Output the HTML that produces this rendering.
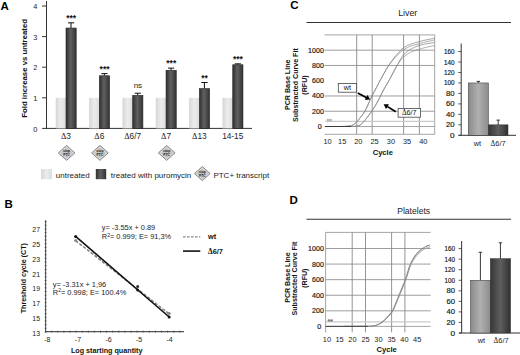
<!DOCTYPE html>
<html><head><meta charset="utf-8"><style>
html,body{margin:0;padding:0;background:#fff;width:520px;height:355px;overflow:hidden}
svg{display:block}
text{font-family:"Liberation Sans", sans-serif}
.h{stroke:#1a1a1a;stroke-width:0.18px}
</style></head><body>
<svg width="520" height="355" viewBox="0 0 520 355">
<rect width="520" height="355" fill="#fff"/>
<defs>
<linearGradient id="gl" x1="0" x2="1" y1="0" y2="0">
 <stop offset="0" stop-color="#d6d6d6"/><stop offset="0.5" stop-color="#ececec"/><stop offset="1" stop-color="#dcdcdc"/>
</linearGradient>
<linearGradient id="gd" x1="0" x2="1" y1="0" y2="0">
 <stop offset="0" stop-color="#303030"/><stop offset="0.45" stop-color="#606060"/><stop offset="1" stop-color="#333333"/>
</linearGradient>
<linearGradient id="gw" x1="0" x2="1" y1="0" y2="0">
 <stop offset="0" stop-color="#8a8a8a"/><stop offset="0.5" stop-color="#b0b0b0"/><stop offset="1" stop-color="#8c8c8c"/>
</linearGradient>
<linearGradient id="gm" x1="0" x2="1" y1="0" y2="0">
 <stop offset="0" stop-color="#363636"/><stop offset="0.5" stop-color="#5e5e5e"/><stop offset="1" stop-color="#303030"/>
</linearGradient>
</defs>
<text x="0.50" y="9.60" font-size="11.5" font-weight="bold" text-anchor="start" fill="#000" >A</text>
<line x1="46.50" y1="1.00" x2="46.50" y2="128.90" stroke="#333" stroke-width="1" />
<line x1="46.00" y1="128.40" x2="252.00" y2="128.40" stroke="#333" stroke-width="1" />
<line x1="42.10" y1="128.40" x2="46.50" y2="128.40" stroke="#333" stroke-width="1" />
<text x="37.40" y="131.50" font-size="7.4" font-weight="normal" text-anchor="end" fill="#222" >0</text>
<line x1="42.10" y1="97.80" x2="46.50" y2="97.80" stroke="#333" stroke-width="1" />
<text x="37.40" y="100.90" font-size="7.4" font-weight="normal" text-anchor="end" fill="#222" >1</text>
<line x1="42.10" y1="67.20" x2="46.50" y2="67.20" stroke="#333" stroke-width="1" />
<text x="37.40" y="70.30" font-size="7.4" font-weight="normal" text-anchor="end" fill="#222" >2</text>
<line x1="42.10" y1="36.60" x2="46.50" y2="36.60" stroke="#333" stroke-width="1" />
<text x="37.40" y="39.70" font-size="7.4" font-weight="normal" text-anchor="end" fill="#222" >3</text>
<line x1="42.10" y1="6.00" x2="46.50" y2="6.00" stroke="#333" stroke-width="1" />
<text x="37.40" y="9.10" font-size="7.4" font-weight="normal" text-anchor="end" fill="#222" >4</text>
<text transform="translate(26.8,68.4) rotate(-90)" font-size="7.8" font-weight="bold" text-anchor="middle" fill="#111">Fold increase vs untreated</text>
<rect x="55.70" y="97.80" width="10.30" height="30.60" fill="url(#gl)" />
<line x1="71.00" y1="22.83" x2="71.00" y2="28.03" stroke="#111" stroke-width="1" />
<line x1="68.00" y1="22.83" x2="74.20" y2="22.83" stroke="#111" stroke-width="1" />
<rect x="66.00" y="28.03" width="10.20" height="100.37" fill="url(#gd)" stroke="#222" stroke-width="0.6"/>
<text x="71.20" y="20.83" font-size="8.5" font-weight="bold" text-anchor="middle" fill="#111" >***</text>
<text x="66.00" y="139.20" font-size="8.3" font-weight="normal" text-anchor="middle" fill="#222" ><tspan font-family="Liberation Serif">&#916;</tspan>3</text>
<rect x="89.05" y="97.80" width="10.30" height="30.60" fill="url(#gl)" />
<line x1="104.35" y1="73.63" x2="104.35" y2="75.77" stroke="#111" stroke-width="1" />
<line x1="101.35" y1="73.63" x2="107.55" y2="73.63" stroke="#111" stroke-width="1" />
<rect x="99.35" y="75.77" width="10.20" height="52.63" fill="url(#gd)" stroke="#222" stroke-width="0.6"/>
<text x="104.55" y="71.63" font-size="8.5" font-weight="bold" text-anchor="middle" fill="#111" >***</text>
<text x="99.35" y="139.20" font-size="8.3" font-weight="normal" text-anchor="middle" fill="#222" ><tspan font-family="Liberation Serif">&#916;</tspan>6</text>
<rect x="122.40" y="97.80" width="10.30" height="30.60" fill="url(#gl)" />
<line x1="137.70" y1="93.21" x2="137.70" y2="95.35" stroke="#111" stroke-width="1" />
<line x1="134.70" y1="93.21" x2="140.90" y2="93.21" stroke="#111" stroke-width="1" />
<rect x="132.70" y="95.35" width="10.20" height="33.05" fill="url(#gd)" stroke="#222" stroke-width="0.6"/>
<text x="137.90" y="87.71" font-size="8" font-weight="normal" text-anchor="middle" fill="#222" >ns</text>
<text x="132.70" y="139.20" font-size="8.3" font-weight="normal" text-anchor="middle" fill="#222" ><tspan font-family="Liberation Serif">&#916;</tspan>6/7</text>
<rect x="155.75" y="97.80" width="10.30" height="30.60" fill="url(#gl)" />
<line x1="171.05" y1="68.12" x2="171.05" y2="70.26" stroke="#111" stroke-width="1" />
<line x1="168.05" y1="68.12" x2="174.25" y2="68.12" stroke="#111" stroke-width="1" />
<rect x="166.05" y="70.26" width="10.20" height="58.14" fill="url(#gd)" stroke="#222" stroke-width="0.6"/>
<text x="171.25" y="66.12" font-size="8.5" font-weight="bold" text-anchor="middle" fill="#111" >***</text>
<text x="166.05" y="139.20" font-size="8.3" font-weight="normal" text-anchor="middle" fill="#222" ><tspan font-family="Liberation Serif">&#916;</tspan>7</text>
<rect x="189.10" y="97.80" width="10.30" height="30.60" fill="url(#gl)" />
<line x1="204.40" y1="82.50" x2="204.40" y2="88.62" stroke="#111" stroke-width="1" />
<line x1="201.40" y1="82.50" x2="207.60" y2="82.50" stroke="#111" stroke-width="1" />
<rect x="199.40" y="88.62" width="10.20" height="39.78" fill="url(#gd)" stroke="#222" stroke-width="0.6"/>
<text x="204.60" y="80.50" font-size="8.5" font-weight="bold" text-anchor="middle" fill="#111" >**</text>
<text x="199.40" y="139.20" font-size="8.3" font-weight="normal" text-anchor="middle" fill="#222" ><tspan font-family="Liberation Serif">&#916;</tspan>13</text>
<rect x="222.45" y="97.80" width="10.30" height="30.60" fill="url(#gl)" />
<line x1="237.75" y1="63.83" x2="237.75" y2="64.75" stroke="#111" stroke-width="1" />
<line x1="234.75" y1="63.83" x2="240.95" y2="63.83" stroke="#111" stroke-width="1" />
<rect x="232.75" y="64.75" width="10.20" height="63.65" fill="url(#gd)" stroke="#222" stroke-width="0.6"/>
<text x="237.95" y="61.83" font-size="8.5" font-weight="bold" text-anchor="middle" fill="#111" >***</text>
<text x="232.75" y="139.20" font-size="8.3" font-weight="normal" text-anchor="middle" fill="#222" >14-15</text>
<path d="M66.60 145.43 L74.90 152.90 L66.60 160.37 L58.30 152.90 Z" fill="#cfcfcf" stroke="#7a7a7a" stroke-width="0.9"/>
<path d="M66.60 146.93 L73.30 152.90 L66.60 158.87 L59.90 152.90 Z" fill="#c4c4c4" stroke="#e4e4e4" stroke-width="0.6"/>
<text x="66.60" y="152.40" font-size="3.4" font-weight="bold" text-anchor="middle" fill="#222" >stop</text>
<text x="66.60" y="155.80" font-size="3.4" font-weight="bold" text-anchor="middle" fill="#222" >PTC</text>
<path d="M99.95 145.43 L108.25 152.90 L99.95 160.37 L91.65 152.90 Z" fill="#cfcfcf" stroke="#7a7a7a" stroke-width="0.9"/>
<path d="M99.95 146.93 L106.65 152.90 L99.95 158.87 L93.25 152.90 Z" fill="#c4c4c4" stroke="#e4e4e4" stroke-width="0.6"/>
<text x="99.95" y="152.40" font-size="3.4" font-weight="bold" text-anchor="middle" fill="#222" >stop</text>
<text x="99.95" y="155.80" font-size="3.4" font-weight="bold" text-anchor="middle" fill="#222" >PTC</text>
<path d="M166.65 145.43 L174.95 152.90 L166.65 160.37 L158.35 152.90 Z" fill="#cfcfcf" stroke="#7a7a7a" stroke-width="0.9"/>
<path d="M166.65 146.93 L173.35 152.90 L166.65 158.87 L159.95 152.90 Z" fill="#c4c4c4" stroke="#e4e4e4" stroke-width="0.6"/>
<text x="166.65" y="152.40" font-size="3.4" font-weight="bold" text-anchor="middle" fill="#222" >stop</text>
<text x="166.65" y="155.80" font-size="3.4" font-weight="bold" text-anchor="middle" fill="#222" >PTC</text>
<rect x="41.00" y="169.00" width="11.00" height="10.20" fill="url(#gl)" />
<text x="55.80" y="178.20" font-size="8.0" font-weight="normal" text-anchor="start" fill="#222" >untreated</text>
<rect x="95.80" y="169.00" width="10.40" height="10.20" fill="url(#gd)" />
<text x="110.80" y="178.20" font-size="8.0" font-weight="normal" text-anchor="start" fill="#222" >treated with puromycin</text>
<path d="M202.30 166.58 L210.10 173.60 L202.30 180.62 L194.50 173.60 Z" fill="#cfcfcf" stroke="#7a7a7a" stroke-width="0.9"/>
<path d="M202.30 168.08 L208.50 173.60 L202.30 179.12 L196.10 173.60 Z" fill="#c4c4c4" stroke="#e4e4e4" stroke-width="0.6"/>
<text x="202.30" y="173.10" font-size="3.4" font-weight="bold" text-anchor="middle" fill="#222" >stop</text>
<text x="202.30" y="176.50" font-size="3.4" font-weight="bold" text-anchor="middle" fill="#222" >PTC</text>
<text x="213.40" y="178.20" font-size="8.0" font-weight="normal" text-anchor="start" fill="#222" >PTC+ transcript</text>
<text x="4.60" y="208.20" font-size="11.5" font-weight="bold" text-anchor="start" fill="#000" >B</text>
<line x1="45.60" y1="220.30" x2="45.60" y2="331.60" stroke="#555" stroke-width="1.1" />
<line x1="45.60" y1="331.60" x2="184.00" y2="331.60" stroke="#555" stroke-width="1.1" />
<line x1="44.70" y1="332.00" x2="46.50" y2="332.00" stroke="#444" stroke-width="0.9" />
<line x1="44.70" y1="328.32" x2="46.50" y2="328.32" stroke="#444" stroke-width="0.9" />
<line x1="44.70" y1="324.64" x2="46.50" y2="324.64" stroke="#444" stroke-width="0.9" />
<line x1="44.70" y1="320.96" x2="46.50" y2="320.96" stroke="#444" stroke-width="0.9" />
<line x1="44.70" y1="317.28" x2="46.50" y2="317.28" stroke="#444" stroke-width="0.9" />
<line x1="44.70" y1="313.60" x2="46.50" y2="313.60" stroke="#444" stroke-width="0.9" />
<line x1="44.70" y1="309.92" x2="46.50" y2="309.92" stroke="#444" stroke-width="0.9" />
<line x1="44.70" y1="306.24" x2="46.50" y2="306.24" stroke="#444" stroke-width="0.9" />
<line x1="44.70" y1="302.56" x2="46.50" y2="302.56" stroke="#444" stroke-width="0.9" />
<line x1="44.70" y1="298.88" x2="46.50" y2="298.88" stroke="#444" stroke-width="0.9" />
<line x1="44.70" y1="295.20" x2="46.50" y2="295.20" stroke="#444" stroke-width="0.9" />
<line x1="44.70" y1="291.52" x2="46.50" y2="291.52" stroke="#444" stroke-width="0.9" />
<line x1="44.70" y1="287.84" x2="46.50" y2="287.84" stroke="#444" stroke-width="0.9" />
<line x1="44.70" y1="284.16" x2="46.50" y2="284.16" stroke="#444" stroke-width="0.9" />
<line x1="44.70" y1="280.48" x2="46.50" y2="280.48" stroke="#444" stroke-width="0.9" />
<line x1="44.70" y1="276.80" x2="46.50" y2="276.80" stroke="#444" stroke-width="0.9" />
<line x1="44.70" y1="273.12" x2="46.50" y2="273.12" stroke="#444" stroke-width="0.9" />
<line x1="44.70" y1="269.44" x2="46.50" y2="269.44" stroke="#444" stroke-width="0.9" />
<line x1="44.70" y1="265.76" x2="46.50" y2="265.76" stroke="#444" stroke-width="0.9" />
<line x1="44.70" y1="262.08" x2="46.50" y2="262.08" stroke="#444" stroke-width="0.9" />
<line x1="44.70" y1="258.40" x2="46.50" y2="258.40" stroke="#444" stroke-width="0.9" />
<line x1="44.70" y1="254.72" x2="46.50" y2="254.72" stroke="#444" stroke-width="0.9" />
<line x1="44.70" y1="251.04" x2="46.50" y2="251.04" stroke="#444" stroke-width="0.9" />
<line x1="44.70" y1="247.36" x2="46.50" y2="247.36" stroke="#444" stroke-width="0.9" />
<line x1="44.70" y1="243.68" x2="46.50" y2="243.68" stroke="#444" stroke-width="0.9" />
<line x1="44.70" y1="240.00" x2="46.50" y2="240.00" stroke="#444" stroke-width="0.9" />
<line x1="44.70" y1="236.32" x2="46.50" y2="236.32" stroke="#444" stroke-width="0.9" />
<line x1="44.70" y1="232.64" x2="46.50" y2="232.64" stroke="#444" stroke-width="0.9" />
<line x1="44.70" y1="228.96" x2="46.50" y2="228.96" stroke="#444" stroke-width="0.9" />
<line x1="44.70" y1="225.28" x2="46.50" y2="225.28" stroke="#444" stroke-width="0.9" />
<line x1="44.70" y1="221.60" x2="46.50" y2="221.60" stroke="#444" stroke-width="0.9" />
<text x="40.10" y="335.50" font-size="7" font-weight="normal" text-anchor="end" fill="#222" >13</text>
<text x="40.10" y="320.78" font-size="7" font-weight="normal" text-anchor="end" fill="#222" >15</text>
<text x="40.10" y="306.06" font-size="7" font-weight="normal" text-anchor="end" fill="#222" >17</text>
<text x="40.10" y="291.34" font-size="7" font-weight="normal" text-anchor="end" fill="#222" >19</text>
<text x="40.10" y="276.62" font-size="7" font-weight="normal" text-anchor="end" fill="#222" >21</text>
<text x="40.10" y="261.90" font-size="7" font-weight="normal" text-anchor="end" fill="#222" >23</text>
<text x="40.10" y="247.18" font-size="7" font-weight="normal" text-anchor="end" fill="#222" >25</text>
<text x="40.10" y="232.46" font-size="7" font-weight="normal" text-anchor="end" fill="#222" >27</text>
<text x="47.40" y="342.40" font-size="7" font-weight="normal" text-anchor="middle" fill="#222" >-8</text>
<text x="77.95" y="342.40" font-size="7" font-weight="normal" text-anchor="middle" fill="#222" >-7</text>
<text x="108.50" y="342.40" font-size="7" font-weight="normal" text-anchor="middle" fill="#222" >-6</text>
<text x="139.05" y="342.40" font-size="7" font-weight="normal" text-anchor="middle" fill="#222" >-5</text>
<text x="169.60" y="342.40" font-size="7" font-weight="normal" text-anchor="middle" fill="#222" >-4</text>
<line x1="45.60" y1="330.70" x2="45.60" y2="332.50" stroke="#444" stroke-width="0.9" />
<line x1="51.70" y1="330.70" x2="51.70" y2="332.50" stroke="#444" stroke-width="0.9" />
<line x1="57.80" y1="330.70" x2="57.80" y2="332.50" stroke="#444" stroke-width="0.9" />
<line x1="63.90" y1="330.70" x2="63.90" y2="332.50" stroke="#444" stroke-width="0.9" />
<line x1="70.00" y1="330.70" x2="70.00" y2="332.50" stroke="#444" stroke-width="0.9" />
<line x1="76.10" y1="330.70" x2="76.10" y2="332.50" stroke="#444" stroke-width="0.9" />
<line x1="82.20" y1="330.70" x2="82.20" y2="332.50" stroke="#444" stroke-width="0.9" />
<line x1="88.30" y1="330.70" x2="88.30" y2="332.50" stroke="#444" stroke-width="0.9" />
<line x1="94.40" y1="330.70" x2="94.40" y2="332.50" stroke="#444" stroke-width="0.9" />
<line x1="100.50" y1="330.70" x2="100.50" y2="332.50" stroke="#444" stroke-width="0.9" />
<line x1="106.60" y1="330.70" x2="106.60" y2="332.50" stroke="#444" stroke-width="0.9" />
<line x1="112.70" y1="330.70" x2="112.70" y2="332.50" stroke="#444" stroke-width="0.9" />
<line x1="118.80" y1="330.70" x2="118.80" y2="332.50" stroke="#444" stroke-width="0.9" />
<line x1="124.90" y1="330.70" x2="124.90" y2="332.50" stroke="#444" stroke-width="0.9" />
<line x1="131.00" y1="330.70" x2="131.00" y2="332.50" stroke="#444" stroke-width="0.9" />
<line x1="137.10" y1="330.70" x2="137.10" y2="332.50" stroke="#444" stroke-width="0.9" />
<line x1="143.20" y1="330.70" x2="143.20" y2="332.50" stroke="#444" stroke-width="0.9" />
<line x1="149.30" y1="330.70" x2="149.30" y2="332.50" stroke="#444" stroke-width="0.9" />
<line x1="155.40" y1="330.70" x2="155.40" y2="332.50" stroke="#444" stroke-width="0.9" />
<line x1="161.50" y1="330.70" x2="161.50" y2="332.50" stroke="#444" stroke-width="0.9" />
<line x1="167.60" y1="330.70" x2="167.60" y2="332.50" stroke="#444" stroke-width="0.9" />
<line x1="173.70" y1="330.70" x2="173.70" y2="332.50" stroke="#444" stroke-width="0.9" />
<line x1="179.80" y1="330.70" x2="179.80" y2="332.50" stroke="#444" stroke-width="0.9" />
<text x="106.70" y="353.00" font-size="7.2" font-weight="bold" text-anchor="middle" fill="#111" >Log starting quantity</text>
<text transform="translate(26.0,278.2) rotate(-90)" font-size="7.1" font-weight="bold" text-anchor="middle" fill="#111">Threshold cycle (CT)</text>
<line x1="75.60" y1="240.60" x2="169.20" y2="314.00" stroke="#808080" stroke-width="1.5" stroke-dasharray="3.2,1.6"/>
<line x1="75.60" y1="236.40" x2="169.20" y2="317.00" stroke="#111" stroke-width="1.6" />
<circle cx="75.6" cy="236.4" r="1.5" fill="#111"/>
<circle cx="75.6" cy="240.6" r="1.5" fill="#888"/>
<circle cx="137.7" cy="290.0" r="1.5" fill="#111"/>
<circle cx="137.7" cy="286.4" r="1.5" fill="#333"/>
<circle cx="169.2" cy="317.0" r="1.5" fill="#111"/>
<circle cx="169.2" cy="313.6" r="1.5" fill="#888"/>
<text x="101.80" y="230.30" font-size="7.4" font-weight="normal" text-anchor="start" fill="#222" >y= -3.55x + 0.89</text>
<text x="101.80" y="239.30" font-size="7.4" font-weight="normal" text-anchor="start" fill="#222" >R<tspan font-size="5" dy="-2.5">2</tspan><tspan dy="2.5">= 0.999; E= 91,3%</tspan></text>
<text x="52.80" y="287.00" font-size="7.4" font-weight="normal" text-anchor="start" fill="#222" >y= -3.31x + 1,96</text>
<text x="52.80" y="294.80" font-size="7.4" font-weight="normal" text-anchor="start" fill="#222" >R<tspan font-size="5" dy="-2.5">2</tspan><tspan dy="2.5">= 0.998; E= 100.4%</tspan></text>
<line x1="183.00" y1="236.80" x2="200.30" y2="236.80" stroke="#888" stroke-width="1.2" stroke-dasharray="2.6,1.4"/>
<text x="208.00" y="239.30" font-size="7.4" font-weight="bold" text-anchor="start" fill="#111" >wt</text>
<line x1="183.00" y1="251.10" x2="200.30" y2="251.10" stroke="#111" stroke-width="1.6" />
<text x="208.00" y="253.80" font-size="7.4" font-weight="bold" text-anchor="start" fill="#111" ><tspan font-family="Liberation Serif">&#916;</tspan>6/7</text>
<text x="290.20" y="8.70" font-size="11.5" font-weight="bold" text-anchor="start" fill="#000" >C</text>
<text x="398.20" y="15.60" font-size="8.8" font-weight="normal" text-anchor="start" fill="#222" >Liver</text>
<line x1="306.50" y1="22.50" x2="511.00" y2="22.50" stroke="#333" stroke-width="1.1" />
<line x1="324.60" y1="34.90" x2="434.70" y2="34.90" stroke="#9a9a9a" stroke-width="0.9" />
<line x1="324.60" y1="111.24" x2="434.70" y2="111.24" stroke="#929292" stroke-width="0.9" />
<text x="323.90" y="113.74" font-size="7.1" font-weight="normal" text-anchor="end" fill="#1a1a1a" class="h">200</text>
<line x1="324.60" y1="95.98" x2="434.70" y2="95.98" stroke="#929292" stroke-width="0.9" />
<text x="323.90" y="98.48" font-size="7.1" font-weight="normal" text-anchor="end" fill="#1a1a1a" class="h">400</text>
<text x="323.90" y="83.22" font-size="7.1" font-weight="normal" text-anchor="end" fill="#1a1a1a" class="h">600</text>
<line x1="324.60" y1="65.46" x2="434.70" y2="65.46" stroke="#929292" stroke-width="0.9" />
<text x="323.90" y="67.96" font-size="7.1" font-weight="normal" text-anchor="end" fill="#1a1a1a" class="h">800</text>
<line x1="324.60" y1="50.20" x2="434.70" y2="50.20" stroke="#929292" stroke-width="0.9" />
<text x="323.90" y="52.70" font-size="7.1" font-weight="normal" text-anchor="end" fill="#1a1a1a" class="h">1000</text>
<text x="321.80" y="129.00" font-size="7.1" font-weight="normal" text-anchor="end" fill="#1a1a1a" class="h">0</text>
<line x1="356.70" y1="34.90" x2="356.70" y2="134.30" stroke="#888888" stroke-width="0.9" />
<line x1="372.20" y1="34.90" x2="372.20" y2="134.30" stroke="#888888" stroke-width="0.9" />
<line x1="403.60" y1="34.90" x2="403.60" y2="134.30" stroke="#888888" stroke-width="0.9" />
<line x1="419.40" y1="34.90" x2="419.40" y2="134.30" stroke="#888888" stroke-width="0.9" />
<line x1="434.70" y1="34.90" x2="434.70" y2="134.30" stroke="#9a9a9a" stroke-width="0.9" />
<line x1="324.60" y1="134.30" x2="434.70" y2="134.30" stroke="#9a9a9a" stroke-width="0.9" />
<line x1="325.10" y1="121.40" x2="434.70" y2="121.40" stroke="#cacaca" stroke-width="1.2" />
<ellipse cx="328.00" cy="120.00" rx="1.4" ry="1.2" fill="#b4b4b4"/>
<ellipse cx="330.60" cy="120.00" rx="1.4" ry="1.2" fill="#b4b4b4"/>
<line x1="324.60" y1="126.50" x2="434.70" y2="126.50" stroke="#9a9a9a" stroke-width="0.9" />
<path d="M325.00 126.50 L325.92 126.50 L326.84 126.50 L327.76 126.50 L328.68 126.50 L329.60 126.50 L330.52 126.50 L331.44 126.50 L332.36 126.50 L333.28 126.50 L334.20 126.49 L335.12 126.49 L336.04 126.49 L336.96 126.49 L337.88 126.49 L338.80 126.49 L339.72 126.48 L340.64 126.48 L341.56 126.48 L342.48 126.47 L343.40 126.45 L344.32 126.42 L345.24 126.38 L346.16 126.32 L347.08 126.27 L348.00 126.19 L348.92 126.09 L349.84 125.96 L350.76 125.79 L351.68 125.52 L352.61 125.08 L353.53 124.52 L354.45 123.90 L355.37 123.12 L356.29 122.24 L357.21 121.30 L358.13 120.28 L359.05 119.18 L359.97 118.03 L360.89 116.85 L361.81 115.64 L362.73 114.40 L363.65 113.07 L364.57 111.63 L365.49 110.02 L366.41 108.20 L367.33 106.24 L368.25 104.20 L369.17 102.13 L370.09 100.11 L371.01 98.10 L371.93 96.13 L372.85 94.30 L373.77 92.56 L374.69 90.84 L375.61 89.09 L376.53 87.32 L377.45 85.54 L378.37 83.78 L379.29 82.04 L380.21 80.33 L381.13 78.64 L382.05 76.94 L382.97 75.25 L383.89 73.58 L384.81 71.93 L385.73 70.32 L386.65 68.75 L387.57 67.23 L388.49 65.78 L389.41 64.39 L390.33 63.03 L391.25 61.71 L392.17 60.43 L393.09 59.19 L394.01 57.99 L394.93 56.83 L395.85 55.72 L396.77 54.62 L397.69 53.52 L398.61 52.44 L399.53 51.39 L400.45 50.40 L401.37 49.49 L402.29 48.67 L403.21 47.97 L404.13 47.37 L405.05 46.82 L405.97 46.31 L406.89 45.84 L407.82 45.40 L408.74 45.00 L409.66 44.62 L410.58 44.26 L411.50 43.91 L412.42 43.59 L413.34 43.29 L414.26 43.00 L415.18 42.73 L416.10 42.47 L417.02 42.21 L417.94 41.97 L418.86 41.72 L419.78 41.47 L420.70 41.23 L421.62 41.00 L422.54 40.77 L423.46 40.55 L424.38 40.33 L425.30 40.12 L426.22 39.92 L427.14 39.72 L428.06 39.52 L428.98 39.33 L429.90 39.15 L430.82 38.97 L431.74 38.79 L432.66 38.62 L433.58 38.46 L434.50 38.30" fill="none" stroke="#7c7c7c" stroke-width="0.75"/>
<path d="M325.00 126.50 L325.92 126.50 L326.84 126.50 L327.76 126.50 L328.68 126.50 L329.60 126.50 L330.52 126.50 L331.44 126.50 L332.36 126.50 L333.28 126.50 L334.20 126.49 L335.12 126.49 L336.04 126.49 L336.96 126.49 L337.88 126.49 L338.80 126.49 L339.72 126.48 L340.64 126.48 L341.56 126.48 L342.48 126.47 L343.40 126.45 L344.32 126.42 L345.24 126.38 L346.16 126.32 L347.08 126.27 L348.00 126.19 L348.92 126.09 L349.84 125.96 L350.76 125.79 L351.68 125.52 L352.61 125.08 L353.53 124.52 L354.45 123.90 L355.37 123.12 L356.29 122.24 L357.21 121.30 L358.13 120.28 L359.05 119.18 L359.97 118.03 L360.89 116.85 L361.81 115.64 L362.73 114.40 L363.65 113.07 L364.57 111.63 L365.49 110.02 L366.41 108.20 L367.33 106.24 L368.25 104.20 L369.17 102.13 L370.09 100.11 L371.01 98.10 L371.93 96.13 L372.85 94.30 L373.77 92.56 L374.69 90.84 L375.61 89.09 L376.53 87.32 L377.45 85.54 L378.37 83.78 L379.29 82.04 L380.21 80.33 L381.13 78.63 L382.05 76.90 L382.97 75.18 L383.89 73.48 L384.81 71.80 L385.73 70.18 L386.65 68.62 L387.57 67.14 L388.49 65.76 L389.41 64.47 L390.33 63.24 L391.25 62.07 L392.17 60.94 L393.09 59.86 L394.01 58.82 L394.93 57.82 L395.85 56.84 L396.77 55.88 L397.69 54.93 L398.61 54.00 L399.53 53.09 L400.45 52.23 L401.37 51.43 L402.29 50.69 L403.21 50.03 L404.13 49.43 L405.05 48.87 L405.97 48.33 L406.89 47.83 L407.82 47.37 L408.74 46.93 L409.66 46.53 L410.58 46.16 L411.50 45.83 L412.42 45.52 L413.34 45.24 L414.26 44.98 L415.18 44.73 L416.10 44.49 L417.02 44.26 L417.94 44.02 L418.86 43.78 L419.78 43.53 L420.70 43.28 L421.62 43.03 L422.54 42.79 L423.46 42.55 L424.38 42.31 L425.30 42.07 L426.22 41.84 L427.14 41.62 L428.06 41.40 L428.98 41.19 L429.90 40.97 L430.82 40.77 L431.74 40.56 L432.66 40.36 L433.58 40.17 L434.50 39.98" fill="none" stroke="#8c8c8c" stroke-width="0.75"/>
<path d="M325.00 126.50 L325.92 126.50 L326.84 126.50 L327.76 126.50 L328.68 126.50 L329.60 126.50 L330.52 126.50 L331.44 126.50 L332.36 126.50 L333.28 126.50 L334.20 126.50 L335.12 126.50 L336.04 126.50 L336.96 126.50 L337.88 126.50 L338.80 126.49 L339.72 126.49 L340.64 126.49 L341.56 126.49 L342.48 126.49 L343.40 126.49 L344.32 126.49 L345.24 126.49 L346.16 126.48 L347.08 126.48 L348.00 126.48 L348.92 126.48 L349.84 126.48 L350.76 126.47 L351.68 126.45 L352.61 126.41 L353.53 126.36 L354.45 126.31 L355.37 126.24 L356.29 126.14 L357.21 126.00 L358.13 125.81 L359.05 125.57 L359.97 125.08 L360.89 124.35 L361.81 123.57 L362.73 122.72 L363.65 121.78 L364.57 120.74 L365.49 119.60 L366.41 118.40 L367.33 117.19 L368.25 115.98 L369.17 114.77 L370.09 113.53 L371.01 112.24 L371.93 110.90 L372.85 109.52 L373.77 108.10 L374.69 106.63 L375.61 105.13 L376.53 103.58 L377.45 101.97 L378.37 100.30 L379.29 98.50 L380.21 96.57 L381.13 94.71 L382.05 92.87 L382.97 91.06 L383.89 89.34 L384.81 87.71 L385.73 86.13 L386.65 84.58 L387.57 83.03 L388.49 81.44 L389.41 79.80 L390.33 78.10 L391.25 76.38 L392.17 74.63 L393.09 72.88 L394.01 71.13 L394.93 69.40 L395.85 67.69 L396.77 66.04 L397.69 64.40 L398.61 62.71 L399.53 61.00 L400.45 59.35 L401.37 57.80 L402.29 56.41 L403.21 55.25 L404.13 54.28 L405.05 53.39 L405.97 52.57 L406.89 51.81 L407.82 51.11 L408.74 50.46 L409.66 49.86 L410.58 49.30 L411.50 48.78 L412.42 48.28 L413.34 47.80 L414.26 47.35 L415.18 46.93 L416.10 46.54 L417.02 46.17 L417.94 45.84 L418.86 45.54 L419.78 45.28 L420.70 45.03 L421.62 44.80 L422.54 44.59 L423.46 44.39 L424.38 44.21 L425.30 44.03 L426.22 43.86 L427.14 43.69 L428.06 43.53 L428.98 43.37 L429.90 43.22 L430.82 43.07 L431.74 42.94 L432.66 42.81 L433.58 42.68 L434.50 42.57" fill="none" stroke="#7c7c7c" stroke-width="0.75"/>
<path d="M325.00 126.50 L325.92 126.50 L326.84 126.50 L327.76 126.50 L328.68 126.50 L329.60 126.50 L330.52 126.50 L331.44 126.50 L332.36 126.50 L333.28 126.50 L334.20 126.50 L335.12 126.50 L336.04 126.50 L336.96 126.50 L337.88 126.50 L338.80 126.49 L339.72 126.49 L340.64 126.49 L341.56 126.49 L342.48 126.49 L343.40 126.49 L344.32 126.49 L345.24 126.49 L346.16 126.48 L347.08 126.48 L348.00 126.48 L348.92 126.48 L349.84 126.48 L350.76 126.47 L351.68 126.45 L352.61 126.41 L353.53 126.36 L354.45 126.31 L355.37 126.24 L356.29 126.14 L357.21 126.00 L358.13 125.81 L359.05 125.57 L359.97 125.08 L360.89 124.35 L361.81 123.57 L362.73 122.72 L363.65 121.78 L364.57 120.74 L365.49 119.60 L366.41 118.40 L367.33 117.19 L368.25 115.98 L369.17 114.77 L370.09 113.53 L371.01 112.24 L371.93 110.90 L372.85 109.52 L373.77 108.10 L374.69 106.63 L375.61 105.13 L376.53 103.58 L377.45 101.97 L378.37 100.30 L379.29 98.50 L380.21 96.57 L381.13 94.71 L382.05 92.87 L382.97 91.06 L383.89 89.34 L384.81 87.71 L385.73 86.13 L386.65 84.58 L387.57 83.03 L388.49 81.44 L389.41 79.79 L390.33 78.06 L391.25 76.26 L392.17 74.44 L393.09 72.63 L394.01 70.84 L394.93 69.12 L395.85 67.48 L396.77 65.96 L397.69 64.57 L398.61 63.21 L399.53 61.90 L400.45 60.65 L401.37 59.50 L402.29 58.45 L403.21 57.53 L404.13 56.71 L405.05 55.93 L405.97 55.21 L406.89 54.53 L407.82 53.90 L408.74 53.32 L409.66 52.79 L410.58 52.31 L411.50 51.88 L412.42 51.49 L413.34 51.13 L414.26 50.80 L415.18 50.49 L416.10 50.20 L417.02 49.91 L417.94 49.64 L418.86 49.36 L419.78 49.08 L420.70 48.81 L421.62 48.55 L422.54 48.30 L423.46 48.05 L424.38 47.81 L425.30 47.57 L426.22 47.34 L427.14 47.11 L428.06 46.89 L428.98 46.67 L429.90 46.46 L430.82 46.25 L431.74 46.05 L432.66 45.85 L433.58 45.66 L434.50 45.47" fill="none" stroke="#8c8c8c" stroke-width="0.75"/>
<line x1="325.00" y1="126.50" x2="351.00" y2="126.50" stroke="#3a3a3a" stroke-width="1.0" />
<text x="327.50" y="143.50" font-size="7.4" font-weight="normal" text-anchor="middle" fill="#1a1a1a" >10</text>
<text x="342.20" y="143.50" font-size="7.4" font-weight="normal" text-anchor="middle" fill="#1a1a1a" >15</text>
<text x="358.30" y="143.50" font-size="7.4" font-weight="normal" text-anchor="middle" fill="#1a1a1a" >20</text>
<text x="374.60" y="143.50" font-size="7.4" font-weight="normal" text-anchor="middle" fill="#1a1a1a" >25</text>
<text x="390.90" y="143.50" font-size="7.4" font-weight="normal" text-anchor="middle" fill="#1a1a1a" >30</text>
<text x="407.10" y="143.50" font-size="7.4" font-weight="normal" text-anchor="middle" fill="#1a1a1a" >35</text>
<text x="423.30" y="143.50" font-size="7.4" font-weight="normal" text-anchor="middle" fill="#1a1a1a" >40</text>
<text x="382.80" y="154.60" font-size="7.6" font-weight="bold" text-anchor="middle" fill="#111" >Cycle</text>
<text transform="translate(290.1,84.8) rotate(-90)" font-size="7.1" font-weight="bold" text-anchor="middle" fill="#111">PCR Base Line</text>
<text transform="translate(298.0,85.1) rotate(-90)" font-size="7.1" font-weight="bold" text-anchor="middle" fill="#111">Substracted Curve Fit</text>
<text transform="translate(307.3,85.0) rotate(-90)" font-size="7.1" font-weight="bold" text-anchor="middle" fill="#111">(RFU)</text>
<rect x="338.30" y="83.50" width="18.10" height="8.70" fill="#fff" stroke="#444" stroke-width="0.8"/>
<text x="347.40" y="90.10" font-size="7.2" font-weight="normal" text-anchor="middle" fill="#111" >wt</text>
<rect x="398.10" y="108.50" width="22.40" height="8.70" fill="#fff" stroke="#444" stroke-width="0.8"/>
<text x="409.30" y="115.30" font-size="7.2" font-weight="normal" text-anchor="middle" fill="#111" ><tspan font-family="Liberation Serif">&#916;</tspan>6/7</text>
<line x1="357.80" y1="93.00" x2="366.58" y2="97.67" stroke="#000" stroke-width="1.7" />
<path d="M370.20 99.60 L364.82 99.91 L367.45 94.97 Z" fill="#000"/>
<line x1="395.80" y1="111.70" x2="387.09" y2="106.35" stroke="#000" stroke-width="1.7" />
<path d="M383.60 104.20 L388.99 104.22 L386.05 108.99 Z" fill="#000"/>
<line x1="461.20" y1="43.50" x2="461.20" y2="135.30" stroke="#444" stroke-width="1.1" />
<line x1="458.70" y1="135.30" x2="516.00" y2="135.30" stroke="#333" stroke-width="1" />
<line x1="458.20" y1="135.30" x2="461.20" y2="135.30" stroke="#333" stroke-width="0.8" />
<text x="454.60" y="137.80" font-size="7.4" font-weight="normal" text-anchor="end" fill="#1a1a1a" class="h" textLength="4.6" lengthAdjust="spacingAndGlyphs">0</text>
<line x1="458.20" y1="124.83" x2="461.20" y2="124.83" stroke="#333" stroke-width="0.8" />
<text x="454.60" y="127.33" font-size="7.4" font-weight="normal" text-anchor="end" fill="#1a1a1a" class="h" textLength="8.6" lengthAdjust="spacingAndGlyphs">20</text>
<line x1="458.20" y1="114.36" x2="461.20" y2="114.36" stroke="#333" stroke-width="0.8" />
<text x="454.60" y="116.86" font-size="7.4" font-weight="normal" text-anchor="end" fill="#1a1a1a" class="h" textLength="8.6" lengthAdjust="spacingAndGlyphs">40</text>
<line x1="458.20" y1="103.89" x2="461.20" y2="103.89" stroke="#333" stroke-width="0.8" />
<text x="454.60" y="106.39" font-size="7.4" font-weight="normal" text-anchor="end" fill="#1a1a1a" class="h" textLength="8.6" lengthAdjust="spacingAndGlyphs">60</text>
<line x1="458.20" y1="93.42" x2="461.20" y2="93.42" stroke="#333" stroke-width="0.8" />
<text x="454.60" y="95.92" font-size="7.4" font-weight="normal" text-anchor="end" fill="#1a1a1a" class="h" textLength="8.6" lengthAdjust="spacingAndGlyphs">80</text>
<line x1="458.20" y1="82.95" x2="461.20" y2="82.95" stroke="#333" stroke-width="0.8" />
<text x="454.60" y="85.45" font-size="7.4" font-weight="normal" text-anchor="end" fill="#1a1a1a" class="h" textLength="10.6" lengthAdjust="spacingAndGlyphs">100</text>
<line x1="458.20" y1="72.48" x2="461.20" y2="72.48" stroke="#333" stroke-width="0.8" />
<text x="454.60" y="74.98" font-size="7.4" font-weight="normal" text-anchor="end" fill="#1a1a1a" class="h" textLength="10.6" lengthAdjust="spacingAndGlyphs">120</text>
<line x1="458.20" y1="62.01" x2="461.20" y2="62.01" stroke="#333" stroke-width="0.8" />
<text x="454.60" y="64.51" font-size="7.4" font-weight="normal" text-anchor="end" fill="#1a1a1a" class="h" textLength="10.6" lengthAdjust="spacingAndGlyphs">140</text>
<line x1="458.20" y1="51.54" x2="461.20" y2="51.54" stroke="#333" stroke-width="0.8" />
<text x="454.60" y="54.04" font-size="7.4" font-weight="normal" text-anchor="end" fill="#1a1a1a" class="h" textLength="10.6" lengthAdjust="spacingAndGlyphs">160</text>
<rect x="468.30" y="82.95" width="20.10" height="52.35" fill="url(#gw)" stroke="#333" stroke-width="0.5"/>
<line x1="478.35" y1="81.38" x2="478.35" y2="82.95" stroke="#222" stroke-width="0.9" />
<line x1="476.65" y1="81.38" x2="480.05" y2="81.38" stroke="#222" stroke-width="0.9" />
<rect x="488.40" y="124.83" width="19.60" height="10.47" fill="url(#gm)" stroke="#333" stroke-width="0.5"/>
<line x1="498.20" y1="120.12" x2="498.20" y2="124.83" stroke="#222" stroke-width="0.9" />
<line x1="496.50" y1="120.12" x2="499.90" y2="120.12" stroke="#222" stroke-width="0.9" />
<text x="477.40" y="145.60" font-size="7.4" font-weight="normal" text-anchor="middle" fill="#1a1a1a" >wt</text>
<text x="498.10" y="145.60" font-size="7.4" font-weight="normal" text-anchor="middle" fill="#1a1a1a" ><tspan font-family="Liberation Serif">&#916;</tspan>6/7</text>
<text x="289.50" y="204.20" font-size="11.5" font-weight="bold" text-anchor="start" fill="#000" >D</text>
<text x="397.20" y="213.50" font-size="8.6" font-weight="normal" text-anchor="start" fill="#222" >Platelets</text>
<line x1="306.50" y1="219.30" x2="511.00" y2="219.30" stroke="#333" stroke-width="1.1" />
<line x1="325.60" y1="232.40" x2="430.60" y2="232.40" stroke="#9a9a9a" stroke-width="0.9" />
<line x1="325.60" y1="310.82" x2="430.60" y2="310.82" stroke="#929292" stroke-width="0.9" />
<text x="323.90" y="313.32" font-size="7.1" font-weight="normal" text-anchor="end" fill="#1a1a1a" class="h">200</text>
<line x1="325.60" y1="295.24" x2="430.60" y2="295.24" stroke="#929292" stroke-width="0.9" />
<text x="323.90" y="297.74" font-size="7.1" font-weight="normal" text-anchor="end" fill="#1a1a1a" class="h">400</text>
<line x1="325.60" y1="279.66" x2="430.60" y2="279.66" stroke="#929292" stroke-width="0.9" />
<text x="323.90" y="282.16" font-size="7.1" font-weight="normal" text-anchor="end" fill="#1a1a1a" class="h">600</text>
<line x1="325.60" y1="264.08" x2="430.60" y2="264.08" stroke="#929292" stroke-width="0.9" />
<text x="323.90" y="266.58" font-size="7.1" font-weight="normal" text-anchor="end" fill="#1a1a1a" class="h">800</text>
<line x1="325.60" y1="248.50" x2="430.60" y2="248.50" stroke="#929292" stroke-width="0.9" />
<text x="323.90" y="251.00" font-size="7.1" font-weight="normal" text-anchor="end" fill="#1a1a1a" class="h">1000</text>
<text x="321.30" y="328.90" font-size="7.1" font-weight="normal" text-anchor="end" fill="#1a1a1a" class="h">0</text>
<line x1="352.20" y1="232.40" x2="352.20" y2="332.30" stroke="#888888" stroke-width="0.9" />
<line x1="365.50" y1="232.40" x2="365.50" y2="332.30" stroke="#888888" stroke-width="0.9" />
<line x1="391.60" y1="232.40" x2="391.60" y2="332.30" stroke="#888888" stroke-width="0.9" />
<line x1="404.90" y1="232.40" x2="404.90" y2="332.30" stroke="#888888" stroke-width="0.9" />
<line x1="325.60" y1="232.40" x2="325.60" y2="332.30" stroke="#9a9a9a" stroke-width="0.9" />
<line x1="326.10" y1="321.80" x2="430.60" y2="321.80" stroke="#cacaca" stroke-width="1.2" />
<ellipse cx="329.00" cy="320.40" rx="1.4" ry="1.2" fill="#808080"/>
<ellipse cx="331.60" cy="320.40" rx="1.4" ry="1.2" fill="#808080"/>
<line x1="325.60" y1="326.40" x2="430.60" y2="326.40" stroke="#9a9a9a" stroke-width="0.9" />
<path d="M325.60 326.40 L326.48 326.40 L327.35 326.40 L328.23 326.40 L329.11 326.40 L329.99 326.40 L330.86 326.40 L331.74 326.40 L332.62 326.40 L333.50 326.40 L334.37 326.40 L335.25 326.40 L336.13 326.40 L337.01 326.40 L337.88 326.40 L338.76 326.40 L339.64 326.40 L340.51 326.40 L341.39 326.40 L342.27 326.40 L343.15 326.40 L344.02 326.39 L344.90 326.39 L345.78 326.39 L346.66 326.39 L347.53 326.39 L348.41 326.39 L349.29 326.39 L350.16 326.39 L351.04 326.39 L351.92 326.39 L352.80 326.39 L353.67 326.39 L354.55 326.38 L355.43 326.38 L356.31 326.38 L357.18 326.38 L358.06 326.38 L358.94 326.38 L359.82 326.38 L360.69 326.37 L361.57 326.37 L362.45 326.37 L363.32 326.37 L364.20 326.37 L365.08 326.36 L365.96 326.36 L366.83 326.36 L367.71 326.34 L368.59 326.31 L369.47 326.26 L370.34 326.20 L371.22 326.13 L372.10 326.05 L372.97 325.96 L373.85 325.82 L374.73 325.64 L375.61 325.41 L376.48 325.16 L377.36 324.89 L378.24 324.57 L379.12 324.17 L379.99 323.71 L380.87 323.19 L381.75 322.62 L382.63 322.03 L383.50 321.36 L384.38 320.59 L385.26 319.76 L386.13 318.87 L387.01 317.96 L387.89 317.03 L388.77 316.10 L389.64 315.14 L390.52 314.13 L391.40 313.02 L392.28 311.79 L393.15 310.39 L394.03 308.65 L394.91 306.62 L395.78 304.45 L396.66 302.28 L397.54 300.20 L398.42 298.10 L399.29 295.98 L400.17 293.86 L401.05 291.75 L401.93 289.65 L402.80 287.53 L403.68 285.38 L404.56 283.17 L405.44 280.90 L406.31 278.51 L407.19 275.84 L408.07 273.02 L408.94 270.20 L409.82 267.54 L410.70 265.21 L411.58 263.32 L412.45 261.70 L413.33 260.26 L414.21 258.95 L415.09 257.73 L415.96 256.57 L416.84 255.49 L417.72 254.48 L418.59 253.57 L419.47 252.73 L420.35 251.94 L421.23 251.20 L422.10 250.51 L422.98 249.90 L423.86 249.36 L424.74 248.88 L425.61 248.43 L426.49 248.01 L427.37 247.63 L428.25 247.29 L429.12 247.01 L430.00 246.79" fill="none" stroke="#a0a0a0" stroke-width="1.0"/>
<path d="M325.60 326.40 L326.48 326.40 L327.35 326.40 L328.23 326.40 L329.11 326.40 L329.99 326.40 L330.86 326.40 L331.74 326.40 L332.62 326.40 L333.50 326.40 L334.37 326.40 L335.25 326.40 L336.13 326.40 L337.01 326.40 L337.88 326.40 L338.76 326.40 L339.64 326.40 L340.51 326.40 L341.39 326.40 L342.27 326.40 L343.15 326.40 L344.02 326.39 L344.90 326.39 L345.78 326.39 L346.66 326.39 L347.53 326.39 L348.41 326.39 L349.29 326.39 L350.16 326.39 L351.04 326.39 L351.92 326.39 L352.80 326.39 L353.67 326.38 L354.55 326.38 L355.43 326.38 L356.31 326.38 L357.18 326.38 L358.06 326.38 L358.94 326.38 L359.82 326.37 L360.69 326.37 L361.57 326.37 L362.45 326.37 L363.32 326.37 L364.20 326.37 L365.08 326.36 L365.96 326.36 L366.83 326.35 L367.71 326.32 L368.59 326.28 L369.47 326.22 L370.34 326.16 L371.22 326.08 L372.10 326.00 L372.97 325.88 L373.85 325.72 L374.73 325.51 L375.61 325.27 L376.48 325.01 L377.36 324.72 L378.24 324.35 L379.12 323.92 L379.99 323.42 L380.87 322.87 L381.75 322.29 L382.63 321.66 L383.50 320.93 L384.38 320.13 L385.26 319.26 L386.13 318.35 L387.01 317.43 L387.89 316.50 L388.77 315.56 L389.64 314.57 L390.52 313.51 L391.40 312.33 L392.28 311.02 L393.15 309.45 L394.03 307.54 L394.91 305.42 L395.78 303.22 L396.66 301.08 L397.54 298.91 L398.42 296.70 L399.29 294.51 L400.17 292.38 L401.05 290.28 L401.93 288.19 L402.80 286.07 L403.68 283.90 L404.56 281.65 L405.44 279.28 L406.31 276.64 L407.19 273.77 L408.07 270.84 L408.94 268.03 L409.82 265.50 L410.70 263.42 L411.58 261.60 L412.45 259.97 L413.33 258.50 L414.21 257.15 L415.09 255.90 L415.96 254.74 L416.84 253.67 L417.72 252.69 L418.59 251.79 L419.47 250.93 L420.35 250.12 L421.23 249.37 L422.10 248.70 L422.98 248.12 L423.86 247.61 L424.74 247.11 L425.61 246.65 L426.49 246.21 L427.37 245.83 L428.25 245.49 L429.12 245.21 L430.00 244.99" fill="none" stroke="#888888" stroke-width="1.05"/>
<line x1="325.60" y1="326.40" x2="368.00" y2="326.40" stroke="#4a4a4a" stroke-width="1.0" />
<text x="326.90" y="341.80" font-size="7.4" font-weight="normal" text-anchor="middle" fill="#1a1a1a" >10</text>
<text x="339.60" y="341.80" font-size="7.4" font-weight="normal" text-anchor="middle" fill="#1a1a1a" >15</text>
<text x="352.40" y="341.80" font-size="7.4" font-weight="normal" text-anchor="middle" fill="#1a1a1a" >20</text>
<text x="365.60" y="341.80" font-size="7.4" font-weight="normal" text-anchor="middle" fill="#1a1a1a" >25</text>
<text x="378.40" y="341.80" font-size="7.4" font-weight="normal" text-anchor="middle" fill="#1a1a1a" >30</text>
<text x="391.50" y="341.80" font-size="7.4" font-weight="normal" text-anchor="middle" fill="#1a1a1a" >35</text>
<text x="404.40" y="341.80" font-size="7.4" font-weight="normal" text-anchor="middle" fill="#1a1a1a" >40</text>
<text x="417.20" y="341.80" font-size="7.4" font-weight="normal" text-anchor="middle" fill="#1a1a1a" >45</text>
<text x="386.60" y="352.20" font-size="7.6" font-weight="bold" text-anchor="middle" fill="#111" >Cycle</text>
<text transform="translate(289.9,277.6) rotate(-90)" font-size="7.1" font-weight="bold" text-anchor="middle" fill="#111">PCR Base Line</text>
<text transform="translate(297.3,278.6) rotate(-90)" font-size="7.1" font-weight="bold" text-anchor="middle" fill="#111">Substracted Curve Fit</text>
<text transform="translate(306.6,278.2) rotate(-90)" font-size="7.1" font-weight="bold" text-anchor="middle" fill="#111">(RFU)</text>
<line x1="461.60" y1="240.90" x2="461.60" y2="333.00" stroke="#444" stroke-width="1.1" />
<line x1="459.10" y1="333.00" x2="520.00" y2="333.00" stroke="#333" stroke-width="1" />
<line x1="458.60" y1="333.00" x2="461.60" y2="333.00" stroke="#333" stroke-width="0.8" />
<text x="455.00" y="335.50" font-size="7.4" font-weight="normal" text-anchor="end" fill="#1a1a1a" class="h" textLength="4.6" lengthAdjust="spacingAndGlyphs">0</text>
<line x1="458.60" y1="322.45" x2="461.60" y2="322.45" stroke="#333" stroke-width="0.8" />
<text x="455.00" y="324.95" font-size="7.4" font-weight="normal" text-anchor="end" fill="#1a1a1a" class="h" textLength="8.6" lengthAdjust="spacingAndGlyphs">20</text>
<line x1="458.60" y1="311.90" x2="461.60" y2="311.90" stroke="#333" stroke-width="0.8" />
<text x="455.00" y="314.40" font-size="7.4" font-weight="normal" text-anchor="end" fill="#1a1a1a" class="h" textLength="8.6" lengthAdjust="spacingAndGlyphs">40</text>
<line x1="458.60" y1="301.35" x2="461.60" y2="301.35" stroke="#333" stroke-width="0.8" />
<text x="455.00" y="303.85" font-size="7.4" font-weight="normal" text-anchor="end" fill="#1a1a1a" class="h" textLength="8.6" lengthAdjust="spacingAndGlyphs">60</text>
<line x1="458.60" y1="290.80" x2="461.60" y2="290.80" stroke="#333" stroke-width="0.8" />
<text x="455.00" y="293.30" font-size="7.4" font-weight="normal" text-anchor="end" fill="#1a1a1a" class="h" textLength="8.6" lengthAdjust="spacingAndGlyphs">80</text>
<line x1="458.60" y1="280.25" x2="461.60" y2="280.25" stroke="#333" stroke-width="0.8" />
<text x="455.00" y="282.75" font-size="7.4" font-weight="normal" text-anchor="end" fill="#1a1a1a" class="h" textLength="10.6" lengthAdjust="spacingAndGlyphs">100</text>
<line x1="458.60" y1="269.70" x2="461.60" y2="269.70" stroke="#333" stroke-width="0.8" />
<text x="455.00" y="272.20" font-size="7.4" font-weight="normal" text-anchor="end" fill="#1a1a1a" class="h" textLength="10.6" lengthAdjust="spacingAndGlyphs">120</text>
<line x1="458.60" y1="259.15" x2="461.60" y2="259.15" stroke="#333" stroke-width="0.8" />
<text x="455.00" y="261.65" font-size="7.4" font-weight="normal" text-anchor="end" fill="#1a1a1a" class="h" textLength="10.6" lengthAdjust="spacingAndGlyphs">140</text>
<line x1="458.60" y1="248.60" x2="461.60" y2="248.60" stroke="#333" stroke-width="0.8" />
<text x="455.00" y="251.10" font-size="7.4" font-weight="normal" text-anchor="end" fill="#1a1a1a" class="h" textLength="10.6" lengthAdjust="spacingAndGlyphs">160</text>
<rect x="470.50" y="280.25" width="19.80" height="52.75" fill="url(#gw)" stroke="#333" stroke-width="0.5"/>
<line x1="480.40" y1="252.29" x2="480.40" y2="280.25" stroke="#222" stroke-width="0.9" />
<line x1="478.70" y1="252.29" x2="482.10" y2="252.29" stroke="#222" stroke-width="0.9" />
<rect x="490.30" y="258.62" width="20.30" height="74.38" fill="url(#gm)" stroke="#333" stroke-width="0.5"/>
<line x1="500.45" y1="242.80" x2="500.45" y2="258.62" stroke="#222" stroke-width="0.9" />
<line x1="498.75" y1="242.80" x2="502.15" y2="242.80" stroke="#222" stroke-width="0.9" />
<text x="481.40" y="343.40" font-size="7.4" font-weight="normal" text-anchor="middle" fill="#1a1a1a" >wt</text>
<text x="501.10" y="343.40" font-size="7.4" font-weight="normal" text-anchor="middle" fill="#1a1a1a" ><tspan font-family="Liberation Serif">&#916;</tspan>6/7</text>
</svg>
</body></html>
